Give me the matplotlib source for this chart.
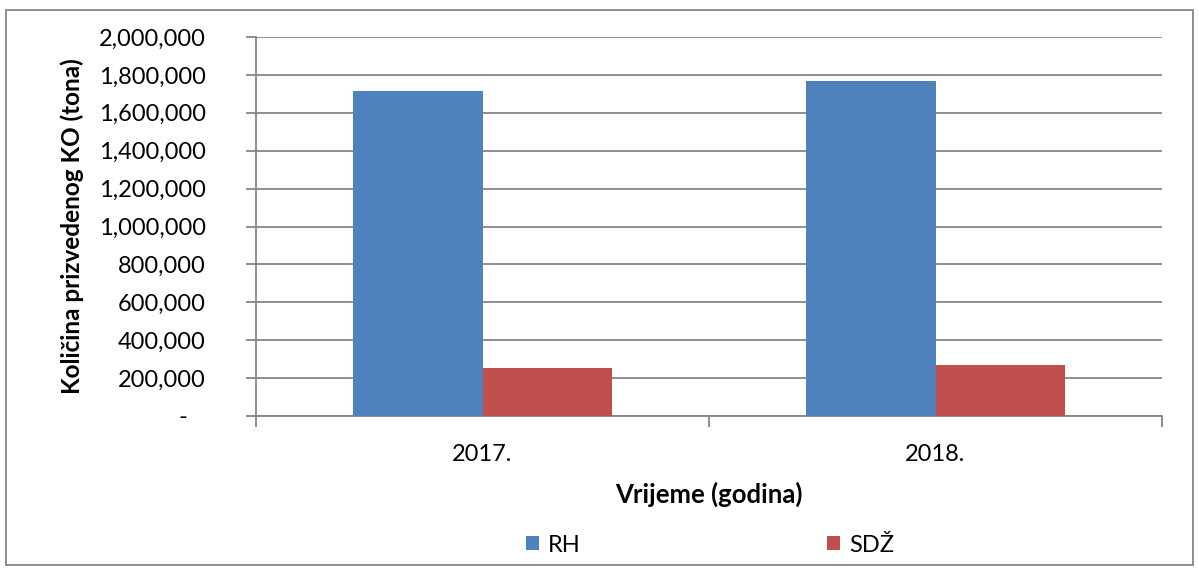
import matplotlib
matplotlib.use("Agg")
import matplotlib.pyplot as plt
import numpy as np
from matplotlib.patches import Rectangle
from matplotlib.ticker import FuncFormatter

# data
years = ["2017.", "2018."]
rh = [1715000, 1766000]
sdz = [254000, 270000]
series_names = ["RH", "SDŽ"]

plt.rcParams['font.family'] = ['Lato', 'DejaVu Sans']

fig = plt.figure(figsize=(11.99, 5.71), dpi=100)
ax = fig.add_axes([256/1199, 1-416/571, (1162-256)/1199, (416-37)/571])

x = np.arange(len(years))
w = 1/3.5
ax.bar(x - w/2, rh, w, color="#4F81BD", label=series_names[0], zorder=3)
ax.bar(x + w/2, sdz, w, color="#C0504D", label=series_names[1], zorder=3)

ax.set_xlim(-0.5, len(years) - 0.5)
ax.set_ylim(0, 2000000)
ax.set_yticks(np.arange(0, 2000001, 200000))
ax.yaxis.set_major_formatter(FuncFormatter(lambda v, p: "-   " if v == 0 else f"{int(v):,}"))
ax.grid(axis="y", color="#868686", linewidth=1.3, zorder=0)

# category labels centered, tick marks on category boundaries
ax.set_xticks(np.arange(-0.5, len(years), 1))
ax.set_xticklabels([])
ax.set_xticks(x, minor=True)
ax.set_xticklabels(years, minor=True)
ax.tick_params(axis="x", which="minor", length=0, labelsize=17, pad=20)
ax.tick_params(axis="x", which="major", length=8, color="#868686", width=1.3)
ax.tick_params(axis="y", length=7, color="#868686", width=1.3, labelsize=17, pad=29)

for s in ["top", "right"]:
    ax.spines[s].set_visible(False)
for s in ["left", "bottom"]:
    ax.spines[s].set_color("#868686")
    ax.spines[s].set_linewidth(1.3)

ax.set_xlabel("Vrijeme (godina)", fontsize=18.5, fontweight="bold", labelpad=12)
ax.set_ylabel("Količina prizvedenog KO (tona)", fontsize=17.5, fontweight="bold", labelpad=11)

fig.legend(loc="center", bbox_to_anchor=(710/1199, 1-545/571), ncol=2, frameon=False,
           fontsize=17, handlelength=0.55, handleheight=0.55, handletextpad=0.4,
           columnspacing=10.4)

fig.patches.append(Rectangle((6/1199, 1-565/571), 1187/1199, 555/571,
                             transform=fig.transFigure, fill=False,
                             edgecolor="#868686", linewidth=1.3))

fig.savefig("out.png", dpi=100)
